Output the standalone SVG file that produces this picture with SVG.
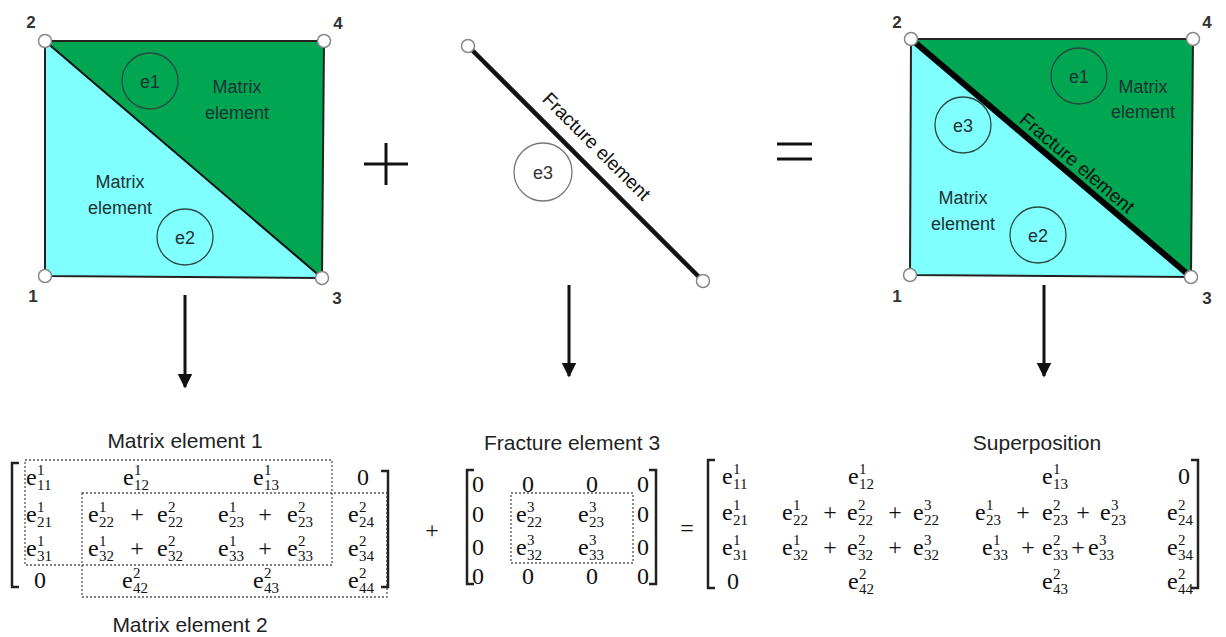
<svg xmlns="http://www.w3.org/2000/svg" width="1226" height="637" viewBox="0 0 1226 637">
<style>
.lbl{font-family:"Liberation Sans",Arial,sans-serif;font-size:18px;fill:#1e3333;text-anchor:middle}
.num{font-family:"Liberation Sans",Arial,sans-serif;font-size:17px;font-weight:bold;fill:#333;text-anchor:middle}
.ttl{font-family:"Liberation Sans",Arial,sans-serif;font-size:21px;fill:#222;text-anchor:middle}
.e{font-family:"Liberation Serif","Times New Roman",serif;font-size:24px;fill:#111}
.s{font-family:"Liberation Serif","Times New Roman",serif;font-size:15px;fill:#111}
.z{font-family:"Liberation Serif","Times New Roman",serif;font-size:24px;fill:#111;text-anchor:middle}
.node{fill:#fff;stroke:#888;stroke-width:1.5}
.ec{fill:none;stroke:#2a4a40;stroke-width:1.3}
.edge{fill:none;stroke:#222;stroke-width:2}
.br{fill:none;stroke:#222;stroke-width:2.5}
.dash{fill:none;stroke:#555;stroke-width:1.3;stroke-dasharray:2 2}
.arr{stroke:#111;stroke-width:3;fill:none}
</style>
<defs>
<marker id="ah" viewBox="0 0 10 10" refX="9" refY="5" markerWidth="5" markerHeight="5.5" orient="auto" markerUnits="strokeWidth">
<path d="M0,0 L10,5 L0,10 z" fill="#111"/>
</marker>
</defs>

<g id="left-mesh">
<polygon points="45,41 324,41 322,278" fill="#00A651"/>
<polygon points="45,41 45,276 322,278" fill="#80FFFF"/>
<polygon class="edge" points="45,41 324,41 322,278 45,276"/>
<line x1="45" y1="41" x2="322" y2="278" stroke="#111" stroke-width="2"/>
<circle class="ec" cx="150" cy="81" r="28"/>
<text class="lbl" x="150" y="88">e1</text>
<text class="lbl" x="237" y="93">Matrix</text>
<text class="lbl" x="237" y="119">element</text>
<circle class="ec" cx="185" cy="237" r="28"/>
<text class="lbl" x="185" y="244">e2</text>
<text class="lbl" x="120" y="188">Matrix</text>
<text class="lbl" x="120" y="214">element</text>
<circle class="node" cx="45" cy="41" r="6.5"/>
<circle class="node" cx="324" cy="41" r="6.5"/>
<circle class="node" cx="45" cy="276" r="6.5"/>
<circle class="node" cx="322" cy="278" r="6.5"/>
<text class="num" x="31" y="28">2</text>
<text class="num" x="338" y="29">4</text>
<text class="num" x="33" y="302">1</text>
<text class="num" x="337" y="304">3</text>
</g>

<g id="plus"><line x1="364" y1="164" x2="408" y2="164" stroke="#111" stroke-width="3"/><line x1="386" y1="143" x2="386" y2="185" stroke="#111" stroke-width="3"/></g>

<g id="fracture">
<line x1="468" y1="46" x2="703" y2="281" stroke="#111" stroke-width="4.5"/>
<circle class="node" cx="468" cy="46" r="6.5"/>
<circle class="node" cx="703" cy="281" r="6.5"/>
<circle cx="543" cy="172" r="29" fill="none" stroke="#777" stroke-width="1.3"/>
<text class="lbl" x="543" y="179" style="fill:#333">e3</text>
<text class="lbl" x="592" y="151" transform="rotate(45 592 151)" style="fill:#111;font-size:19px">Fracture element</text>
</g>

<g id="equals"><line x1="777" y1="144" x2="812" y2="144" stroke="#111" stroke-width="3"/><line x1="777" y1="159" x2="812" y2="159" stroke="#111" stroke-width="3"/></g>

<g id="right-mesh">
<polygon points="911,39 1193,39 1191,277" fill="#00A651"/>
<polygon points="911,39 910,275 1191,277" fill="#80FFFF"/>
<polygon class="edge" points="911,39 1193,39 1191,277 910,275"/>
<line x1="911" y1="39" x2="1191" y2="277" stroke="#000" stroke-width="6"/>
<circle class="ec" cx="1079" cy="76" r="28"/>
<text class="lbl" x="1079" y="83">e1</text>
<text class="lbl" x="1143" y="93">Matrix</text>
<text class="lbl" x="1143" y="118">element</text>
<circle class="ec" cx="963" cy="125" r="28"/>
<text class="lbl" x="963" y="132">e3</text>
<circle class="ec" cx="1038" cy="235" r="28"/>
<text class="lbl" x="1038" y="242">e2</text>
<text class="lbl" x="963" y="204">Matrix</text>
<text class="lbl" x="963" y="230">element</text>
<text class="lbl" x="1073" y="168" transform="rotate(40.4 1073 168)" style="fill:#111;font-size:19px">Fracture element</text>
<circle class="node" cx="911" cy="39" r="6.5"/>
<circle class="node" cx="1193" cy="39" r="6.5"/>
<circle class="node" cx="910" cy="275" r="6.5"/>
<circle class="node" cx="1191" cy="277" r="6.5"/>
<text class="num" x="897" y="28">2</text>
<text class="num" x="1207" y="28">4</text>
<text class="num" x="897" y="302">1</text>
<text class="num" x="1207" y="304">3</text>
</g>

<g id="connectors">
<line class="arr" x1="185" y1="295" x2="185" y2="387" marker-end="url(#ah)"/>
<line class="arr" x1="569" y1="285" x2="569" y2="376" marker-end="url(#ah)"/>
<line class="arr" x1="1044" y1="285" x2="1044" y2="376" marker-end="url(#ah)"/>
</g>

<g id="matrix-left">
<text class="ttl" x="185" y="448">Matrix element 1</text>
<text class="ttl" x="190" y="632">Matrix element 2</text>
<rect class="dash" x="25" y="460" width="307" height="105"/>
<rect class="dash" x="82" y="493" width="305" height="104"/>
<path class="br" d="M19,463 H12 V587 H19"/>
<path class="br" d="M381,471 H388 V587 H381"/>
<g transform="translate(26,485)"><text class="e">e</text><text class="s" x="11" y="-10">1</text><text class="s" x="11" y="5">11</text></g>
<g transform="translate(123,485)"><text class="e">e</text><text class="s" x="11" y="-10">1</text><text class="s" x="11" y="5">12</text></g>
<g transform="translate(253,485)"><text class="e">e</text><text class="s" x="11" y="-10">1</text><text class="s" x="11" y="5">13</text></g>
<text class="z" x="363" y="485">0</text>
<g transform="translate(26,522)"><text class="e">e</text><text class="s" x="11" y="-10">1</text><text class="s" x="11" y="5">21</text></g>
<g transform="translate(88,522)"><text class="e">e</text><text class="s" x="11" y="-10">1</text><text class="s" x="11" y="5">22</text></g>
<text class="z" x="137" y="522">+</text>
<g transform="translate(157,522)"><text class="e">e</text><text class="s" x="11" y="-10">2</text><text class="s" x="11" y="5">22</text></g>
<g transform="translate(218,522)"><text class="e">e</text><text class="s" x="11" y="-10">1</text><text class="s" x="11" y="5">23</text></g>
<text class="z" x="265" y="522">+</text>
<g transform="translate(287,522)"><text class="e">e</text><text class="s" x="11" y="-10">2</text><text class="s" x="11" y="5">23</text></g>
<g transform="translate(348,522)"><text class="e">e</text><text class="s" x="11" y="-10">2</text><text class="s" x="11" y="5">24</text></g>
<g transform="translate(26,556)"><text class="e">e</text><text class="s" x="11" y="-10">1</text><text class="s" x="11" y="5">31</text></g>
<g transform="translate(88,556)"><text class="e">e</text><text class="s" x="11" y="-10">1</text><text class="s" x="11" y="5">32</text></g>
<text class="z" x="137" y="556">+</text>
<g transform="translate(157,556)"><text class="e">e</text><text class="s" x="11" y="-10">2</text><text class="s" x="11" y="5">32</text></g>
<g transform="translate(218,556)"><text class="e">e</text><text class="s" x="11" y="-10">1</text><text class="s" x="11" y="5">33</text></g>
<text class="z" x="265" y="556">+</text>
<g transform="translate(287,556)"><text class="e">e</text><text class="s" x="11" y="-10">2</text><text class="s" x="11" y="5">33</text></g>
<g transform="translate(348,556)"><text class="e">e</text><text class="s" x="11" y="-10">2</text><text class="s" x="11" y="5">34</text></g>
<text class="z" x="40" y="588">0</text>
<g transform="translate(122,588)"><text class="e">e</text><text class="s" x="11" y="-10">2</text><text class="s" x="11" y="5">42</text></g>
<g transform="translate(253,588)"><text class="e">e</text><text class="s" x="11" y="-10">2</text><text class="s" x="11" y="5">43</text></g>
<g transform="translate(348,588)"><text class="e">e</text><text class="s" x="11" y="-10">2</text><text class="s" x="11" y="5">44</text></g>
</g>

<text class="z" x="432" y="538">+</text>

<g id="matrix-middle">
<text class="ttl" x="572" y="450">Fracture element 3</text>
<rect class="dash" x="511" y="493" width="122" height="70"/>
<path class="br" d="M474,470 H467 V584 H474"/>
<path class="br" d="M649,470 H656 V584 H649"/>
<text class="z" x="478" y="492">0</text><text class="z" x="528" y="492">0</text><text class="z" x="592" y="492">0</text><text class="z" x="643" y="492">0</text>
<text class="z" x="478" y="522">0</text><text class="z" x="643" y="522">0</text>
<text class="z" x="478" y="555">0</text><text class="z" x="643" y="555">0</text>
<text class="z" x="478" y="584">0</text><text class="z" x="528" y="584">0</text><text class="z" x="592" y="584">0</text><text class="z" x="643" y="584">0</text>
<g transform="translate(516,522)"><text class="e">e</text><text class="s" x="11" y="-10">3</text><text class="s" x="11" y="5">22</text></g>
<g transform="translate(578,522)"><text class="e">e</text><text class="s" x="11" y="-10">3</text><text class="s" x="11" y="5">23</text></g>
<g transform="translate(516,555)"><text class="e">e</text><text class="s" x="11" y="-10">3</text><text class="s" x="11" y="5">32</text></g>
<g transform="translate(578,555)"><text class="e">e</text><text class="s" x="11" y="-10">3</text><text class="s" x="11" y="5">33</text></g>
</g>

<text class="z" x="687" y="536">=</text>

<g id="matrix-right">
<text class="ttl" x="1037" y="450">Superposition</text>
<path class="br" d="M715,460 H708 V588 H715"/>
<path class="br" d="M1191,460 H1198 V588 H1191"/>
<g transform="translate(722,484)"><text class="e">e</text><text class="s" x="11" y="-10">1</text><text class="s" x="11" y="5">11</text></g>
<g transform="translate(848,484)"><text class="e">e</text><text class="s" x="11" y="-10">1</text><text class="s" x="11" y="5">12</text></g>
<g transform="translate(1042,484)"><text class="e">e</text><text class="s" x="11" y="-10">1</text><text class="s" x="11" y="5">13</text></g>
<text class="z" x="1184" y="484">0</text>
<g transform="translate(722,520)"><text class="e">e</text><text class="s" x="11" y="-10">1</text><text class="s" x="11" y="5">21</text></g>
<g transform="translate(782,520)"><text class="e">e</text><text class="s" x="11" y="-10">1</text><text class="s" x="11" y="5">22</text></g>
<text class="z" x="830" y="520">+</text>
<g transform="translate(847,520)"><text class="e">e</text><text class="s" x="11" y="-10">2</text><text class="s" x="11" y="5">22</text></g>
<text class="z" x="895" y="520">+</text>
<g transform="translate(913,520)"><text class="e">e</text><text class="s" x="11" y="-10">3</text><text class="s" x="11" y="5">22</text></g>
<g transform="translate(975,520)"><text class="e">e</text><text class="s" x="11" y="-10">1</text><text class="s" x="11" y="5">23</text></g>
<text class="z" x="1023" y="520">+</text>
<g transform="translate(1042,520)"><text class="e">e</text><text class="s" x="11" y="-10">2</text><text class="s" x="11" y="5">23</text></g>
<text class="z" x="1083" y="520">+</text>
<g transform="translate(1100,520)"><text class="e">e</text><text class="s" x="11" y="-10">3</text><text class="s" x="11" y="5">23</text></g>
<g transform="translate(1167,520)"><text class="e">e</text><text class="s" x="11" y="-10">2</text><text class="s" x="11" y="5">24</text></g>
<g transform="translate(722,555)"><text class="e">e</text><text class="s" x="11" y="-10">1</text><text class="s" x="11" y="5">31</text></g>
<g transform="translate(782,555)"><text class="e">e</text><text class="s" x="11" y="-10">1</text><text class="s" x="11" y="5">32</text></g>
<text class="z" x="830" y="555">+</text>
<g transform="translate(847,555)"><text class="e">e</text><text class="s" x="11" y="-10">2</text><text class="s" x="11" y="5">32</text></g>
<text class="z" x="895" y="555">+</text>
<g transform="translate(913,555)"><text class="e">e</text><text class="s" x="11" y="-10">3</text><text class="s" x="11" y="5">32</text></g>
<g transform="translate(982,555)"><text class="e">e</text><text class="s" x="11" y="-10">1</text><text class="s" x="11" y="5">33</text></g>
<text class="z" x="1028" y="555">+</text>
<g transform="translate(1042,555)"><text class="e">e</text><text class="s" x="11" y="-10">2</text><text class="s" x="11" y="5">33</text></g>
<text class="z" x="1078" y="555">+</text>
<g transform="translate(1088,555)"><text class="e">e</text><text class="s" x="11" y="-10">3</text><text class="s" x="11" y="5">33</text></g>
<g transform="translate(1167,555)"><text class="e">e</text><text class="s" x="11" y="-10">2</text><text class="s" x="11" y="5">34</text></g>
<text class="z" x="733" y="589">0</text>
<g transform="translate(848,589)"><text class="e">e</text><text class="s" x="11" y="-10">2</text><text class="s" x="11" y="5">42</text></g>
<g transform="translate(1042,589)"><text class="e">e</text><text class="s" x="11" y="-10">2</text><text class="s" x="11" y="5">43</text></g>
<g transform="translate(1167,589)"><text class="e">e</text><text class="s" x="11" y="-10">2</text><text class="s" x="11" y="5">44</text></g>
</g>
</svg>
